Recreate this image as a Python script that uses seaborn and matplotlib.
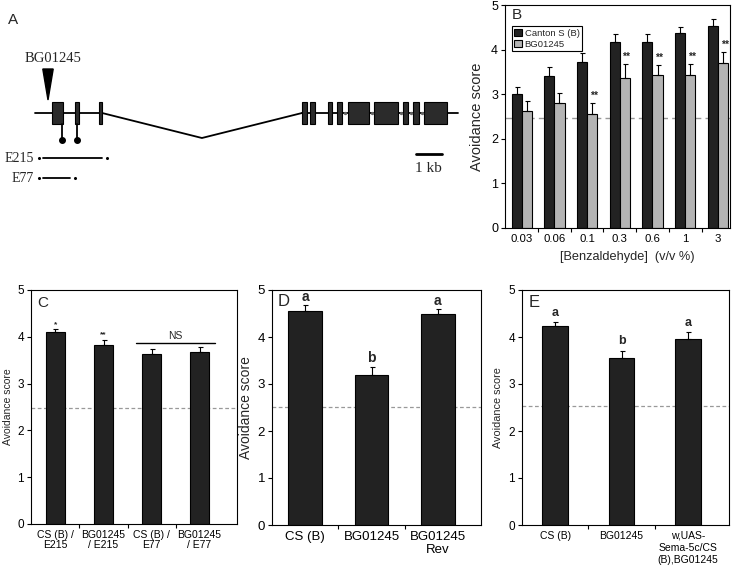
import numpy as np
import pandas as pd
import matplotlib
matplotlib.use("Agg")
import matplotlib.pyplot as plt
import seaborn as sns
from matplotlib.patches import Rectangle, Polygon, Patch

# ---------------- data ----------------
# Panel A: gene model (kb)
exon_start_kb = [0.65, 1.54, 2.46, 10.27, 10.58, 11.27, 11.62, 12.04, 13.04, 14.15, 14.54, 14.96]
exon_end_kb = [1.08, 1.69, 2.58, 10.46, 10.77, 11.42, 11.81, 12.85, 13.96, 14.35, 14.77, 15.85]
gene_left_kb = [0.0, 2.58]
gene_right_kb = [10.27, 16.27]
intron_apex_kb = 6.42
splice_dots_kb = [11.92, 12.96, 14.08, 14.46, 14.88]
insertion_kb = 0.5
insertion_name = "BG01245"
lollipop_kb = [1.04, 1.62]
deletion_names = ["E215", "E77"]
deletion_start_kb = [0.31, 0.31]
deletion_end_kb = [2.58, 1.35]
scalebar_kb = [14.65, 15.65]

# Panel B
conc = ['0.03', '0.06', '0.1', '0.3', '0.6', '1', '3']
strains = ['Canton S (B)', 'BG01245']
cs_mean = [3.01, 3.40, 3.72, 4.16, 4.18, 4.38, 4.53]
cs_err = [0.15, 0.20, 0.21, 0.18, 0.16, 0.13, 0.15]
bg_mean = [2.63, 2.80, 2.56, 3.37, 3.43, 3.43, 3.71]
bg_err = [0.21, 0.22, 0.25, 0.30, 0.23, 0.24, 0.23]
b_sig = ['', '', '**', '**', '**', '**', '**']
b_chance = 2.47

# Panel C
c_labels = ['CS (B) /\nE215', 'BG01245\n/ E215', 'CS (B) /\nE77', 'BG01245\n/ E77']
c_mean = [4.10, 3.83, 3.63, 3.68]
c_err = [0.06, 0.10, 0.10, 0.11]
c_sig = ['*', '**', '', '']
c_chance = 2.47

# Panel D
d_labels = ['CS (B)', 'BG01245', 'BG01245\nRev']
d_mean = [4.56, 3.19, 4.49]
d_err = [0.12, 0.18, 0.10]
d_letters = ['a', 'b', 'a']
d_chance = 2.51

# Panel E
e_labels = ['CS (B)', 'BG01245', 'w,UAS-\nSema-5c/CS\n(B),BG01245']
e_mean = [4.23, 3.56, 3.96]
e_err = [0.08, 0.14, 0.14]
e_letters = ['a', 'b', 'a']
e_chance = 2.53

# ---------------- style ----------------
sns.set_theme(style='ticks')
plt.rcParams['font.family'] = ['Liberation Sans', 'DejaVu Sans']
plt.rcParams['axes.linewidth'] = 0.8
plt.rcParams['xtick.major.width'] = 0.8
plt.rcParams['ytick.major.width'] = 0.8

DARK = '#222222'
LIGHT = '#b4b4b4'
W, H = 737, 568

fig = plt.figure(figsize=(W / 100, H / 100), dpi=100)


def px_axes(l, t, r, b):
    return fig.add_axes([l / W, 1 - b / H, (r - l) / W, (b - t) / H])


def style_bar_axes(ax, n, xlim, tick_fs, ylabel_fs, ylabel_x, labels=None, label_fs=8, lsp=1.05):
    ax.set_ylim(0, 5)
    ax.set_xlim(*xlim)
    ax.set_yticks(range(6))
    ax.tick_params(axis='y', direction='out', length=3, labelsize=tick_fs, pad=2, colors='black')
    ax.set_xticks(np.arange(n))
    if labels is not None:
        ax.set_xticklabels(labels, fontsize=label_fs, linespacing=lsp)
    ax.tick_params(axis='x', which='major', length=0, pad=4, colors='black')
    ax.set_xticks(np.arange(n - 1) + 0.5, minor=True)
    ax.tick_params(axis='x', which='minor', length=3, direction='out', width=0.8, color='black')
    for s in ax.spines.values():
        s.set_visible(True)
        s.set_color('black')
        s.set_linewidth(0.8)
    ax.set_xlabel('')
    ax.set_ylabel('Avoidance score', fontsize=ylabel_fs)
    ax.yaxis.set_label_coords(ylabel_x, 0.5)
    ax.set_facecolor('white')


def add_errors(ax, container, errs):
    xs = [b.get_x() + b.get_width() / 2 for b in container]
    ys = [b.get_height() for b in container]
    ax.errorbar(xs, ys, yerr=[np.zeros(len(errs)), errs], fmt='none', ecolor='black',
                elinewidth=0.8, capsize=1.8, capthick=0.8, zorder=3)
    return xs, ys


# ---------------- Panel A ----------------
axA = px_axes(0, 0, 470, 250)
px0, pxk = 35.0, 26.0
axA.set_xlim(-px0 / pxk, (470 - px0) / pxk)
axA.set_ylim(250, 0)
axA.axis('off')
yb = 113
axA.plot(gene_left_kb, [yb, yb], color='black', lw=1.3, zorder=1)
axA.plot(gene_right_kb, [yb, yb], color='black', lw=1.3, zorder=1)
axA.plot([gene_left_kb[1], intron_apex_kb, gene_right_kb[0]], [yb, 138, yb], color='black', lw=1.3, zorder=1)
for s, e in zip(exon_start_kb, exon_end_kb):
    axA.add_patch(Rectangle((s, 102), e - s, 22, facecolor='#2b2b2b', edgecolor='black', lw=0.8, zorder=2))
axA.scatter(splice_dots_kb, [yb] * len(splice_dots_kb), s=2, color='#666666', zorder=3)
axA.add_patch(Polygon([(insertion_kb - 0.2, 69), (insertion_kb + 0.2, 69), (insertion_kb, 100)],
                      closed=True, facecolor='black', edgecolor='black'))
axA.text(insertion_kb + 0.2, 62, insertion_name, family='Liberation Serif', fontsize=10.5,
         ha='center', va='baseline')
for x in lollipop_kb:
    axA.plot([x, x], [124, 140], color='black', lw=1.3)
    axA.plot([x], [140], 'o', color='black', ms=4)
for i, (nm, s, e) in enumerate(zip(deletion_names, deletion_start_kb, deletion_end_kb)):
    y = 158 + 20 * i
    axA.plot([s, e], [y, y], color='black', lw=1.3)
    axA.plot([s - 0.17, e + 0.19], [y, y], 'o', color='black', ms=1.2)
    axA.text(s - 0.35, y + 4, nm, family='Liberation Serif', fontsize=10, ha='right', va='baseline')
axA.plot(scalebar_kb, [154, 154], color='black', lw=2)
axA.text(np.mean(scalebar_kb), 172, '1 kb', family='Liberation Serif', fontsize=11, ha='center', va='baseline')
axA.text(-px0 / pxk + 8 / pxk, 24, 'A', fontsize=11, ha='left', va='baseline')

# ---------------- Panel B ----------------
axB = px_axes(505, 5, 730, 228)
dfB = pd.DataFrame({
    'conc': conc * 2,
    'strain': [strains[0]] * len(conc) + [strains[1]] * len(conc),
    'score': cs_mean + bg_mean,
})
sns.barplot(data=dfB, x='conc', y='score', hue='strain', order=conc, hue_order=strains,
            palette=[DARK, LIGHT], edgecolor='black', linewidth=0.8, errorbar=None,
            width=0.62, gap=0, legend=False, ax=axB, zorder=2)
style_bar_axes(axB, len(conc), (-0.51, 6.37), 9, 10.5, -0.093)
axB.set_xticklabels(conc, fontsize=8.2)
axB.tick_params(axis='x', which='major', pad=4.5)
axB.set_xlabel('[Benzaldehyde]  (v/v %)', fontsize=9.2)
axB.xaxis.set_label_coords(0.542, -0.105)
axB.axhline(b_chance, color='#999999', lw=1.0, ls=(0, (5, 3)), zorder=1)
add_errors(axB, axB.containers[0], cs_err)
xs, ys = add_errors(axB, axB.containers[1], bg_err)
for x, y, e, s in zip(xs, ys, bg_err, b_sig):
    if s:
        axB.text(x + 0.05, y + e + 0.05, s, ha='center', va='bottom', fontsize=7.5, fontweight='bold')
axB.legend(handles=[Patch(facecolor=DARK, edgecolor='black', lw=0.8, label=strains[0]),
                    Patch(facecolor=LIGHT, edgecolor='black', lw=0.8, label=strains[1])],
           loc='upper left', bbox_to_anchor=(0.031, 0.905), borderaxespad=0, frameon=True,
           fancybox=False, edgecolor='black', framealpha=1, fontsize=6.8, borderpad=0.25,
           labelspacing=0.25, handlelength=0.8, handleheight=0.8, handletextpad=0.3)
axB.get_legend().get_frame().set_linewidth(0.8)
axB.text(0.03, 0.985, 'B', transform=axB.transAxes, fontsize=11, ha='left', va='top')

# ---------------- Panel C ----------------
axC = px_axes(31, 290, 237, 524)
dfC = pd.DataFrame({'group': c_labels, 'score': c_mean})
sns.barplot(data=dfC, x='group', y='score', order=c_labels, color=DARK, saturation=1,
            edgecolor='black', linewidth=0.8, errorbar=None, width=0.40, ax=axC, zorder=2)
style_bar_axes(axC, len(c_labels), (-0.51, 3.78), 8.5, 7.5, -0.087, c_labels, 7.5, 1.0)
axC.axhline(c_chance, color='#999999', lw=0.9, ls=(0, (3, 2)), zorder=1)
xs, ys = add_errors(axC, axC.containers[0], c_err)
for x, y, e, s in zip(xs, ys, c_err, c_sig):
    if s:
        axC.text(x, y + e + 0.03, s, ha='center', va='bottom', fontsize=6, fontweight='bold')
bars = axC.containers[0]
x0 = bars[2].get_x()
x1 = bars[3].get_x() + bars[3].get_width()
axC.plot([x0 - 0.12, x1 + 0.12], [3.87, 3.87], color='black', lw=1.0)
axC.text((x0 + x1) / 2, 3.92, 'NS', ha='center', va='bottom', fontsize=7.5)
axC.text(0.03, 0.975, 'C', transform=axC.transAxes, fontsize=11, ha='left', va='top')

# ---------------- Panel D ----------------
axD = px_axes(272, 290, 481, 525)
dfD = pd.DataFrame({'group': d_labels, 'score': d_mean})
sns.barplot(data=dfD, x='group', y='score', order=d_labels, color=DARK, saturation=1,
            edgecolor='black', linewidth=0.8, errorbar=None, width=0.51, ax=axD, zorder=2)
style_bar_axes(axD, len(d_labels), (-0.5, 2.65), 9.5, 10, -0.091, d_labels, 9.5, 1.15)
axD.axhline(d_chance, color='#999999', lw=0.9, ls=(0, (3, 2)), zorder=1)
xs, ys = add_errors(axD, axD.containers[0], d_err)
for x, y, e, s in zip(xs, ys, d_err, d_letters):
    axD.text(x, y + e + 0.03, s, ha='center', va='bottom', fontsize=10, fontweight='bold')
axD.text(0.025, 0.985, 'D', transform=axD.transAxes, fontsize=12, ha='left', va='top')

# ---------------- Panel E ----------------
axE = px_axes(522, 290, 729, 525)
dfE = pd.DataFrame({'group': e_labels, 'score': e_mean})
sns.barplot(data=dfE, x='group', y='score', order=e_labels, color=DARK, saturation=1,
            edgecolor='black', linewidth=0.8, errorbar=None, width=0.39, ax=axE, zorder=2)
style_bar_axes(axE, len(e_labels), (-0.5, 2.62), 8.5, 7.8, -0.092, e_labels, 7.5, 1.25)
axE.axhline(e_chance, color='#999999', lw=0.9, ls=(0, (3, 2)), zorder=1)
xs, ys = add_errors(axE, axE.containers[0], e_err)
for x, y, e, s in zip(xs, ys, e_err, e_letters):
    axE.text(x, y + e + 0.08, s, ha='center', va='bottom', fontsize=9, fontweight='bold')
axE.text(0.03, 0.98, 'E', transform=axE.transAxes, fontsize=12, ha='left', va='top')

fig.savefig('out.png', dpi=100, facecolor='white')
